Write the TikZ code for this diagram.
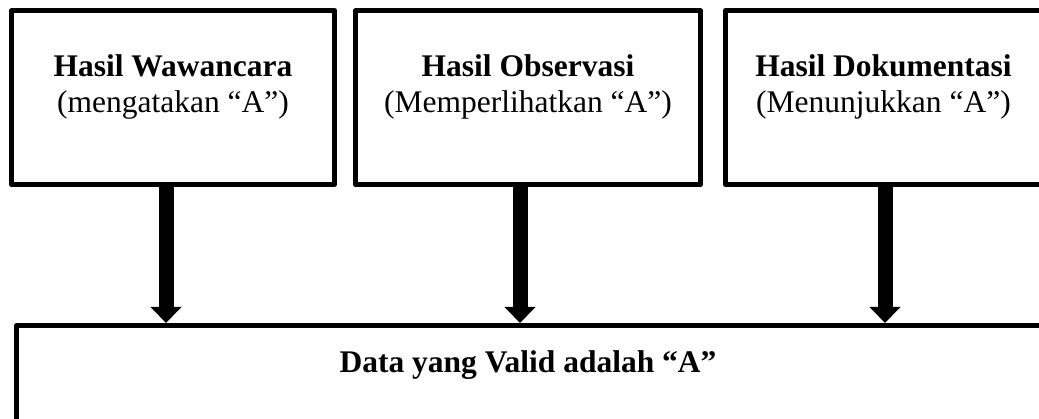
\documentclass[tikz,border=0pt]{standalone}
\usepackage{fontspec}
\setmainfont{Liberation Serif}
\usetikzlibrary{arrows.meta}
\begin{document}
\begin{tikzpicture}[x=1pt,y=-1pt,
  box/.style={draw, line width=5pt, line join=round, inner sep=0pt,
    font=\fontsize{31.5}{36}\selectfont},
  topbox/.style={box, text height=66.5pt, text depth=107.5pt},
  arr/.style={line width=15pt, -{Triangle[width=30pt,length=16pt]}}]
\useasboundingbox (0,0) rectangle (1039,419);
\clip (0,0) rectangle (1039,419);
\node[topbox, minimum width=323pt] (b1) at (173,97.5)
  {\begin{tabular}[t]{@{}c@{}}\textbf{Hasil Wawancara}\\(mengatakan “A”)\end{tabular}};
\node[topbox, minimum width=345pt] (b2) at (528,97.5)
  {\begin{tabular}[t]{@{}c@{}}\textbf{Hasil Observasi}\\(Memperlihatkan “A”)\end{tabular}};
\node[topbox, minimum width=336pt] (b3) at (893.5,97.5)
  {\begin{tabular}[t]{@{}c@{\hspace{20pt}}}\textbf{Hasil Dokumentasi}\\(Menunjukkan “A”)\end{tabular}};
\node[box, minimum width=1060pt, text height=47.5pt, text depth=150pt] (bot) at (546.5,424.25)
  {\textbf{Data yang Valid adalah “A”}\hspace*{37pt}};
\draw[arr] ([xshift=-7pt]b1.south) -- ([xshift=-7pt]b1.south |- bot.north);
\draw[arr] ([xshift=-8pt]b2.south) -- ([xshift=-8pt]b2.south |- bot.north);
\draw[arr] ([xshift=-8.5pt]b3.south) -- ([xshift=-8.5pt]b3.south |- bot.north);
\end{tikzpicture}
\end{document}
